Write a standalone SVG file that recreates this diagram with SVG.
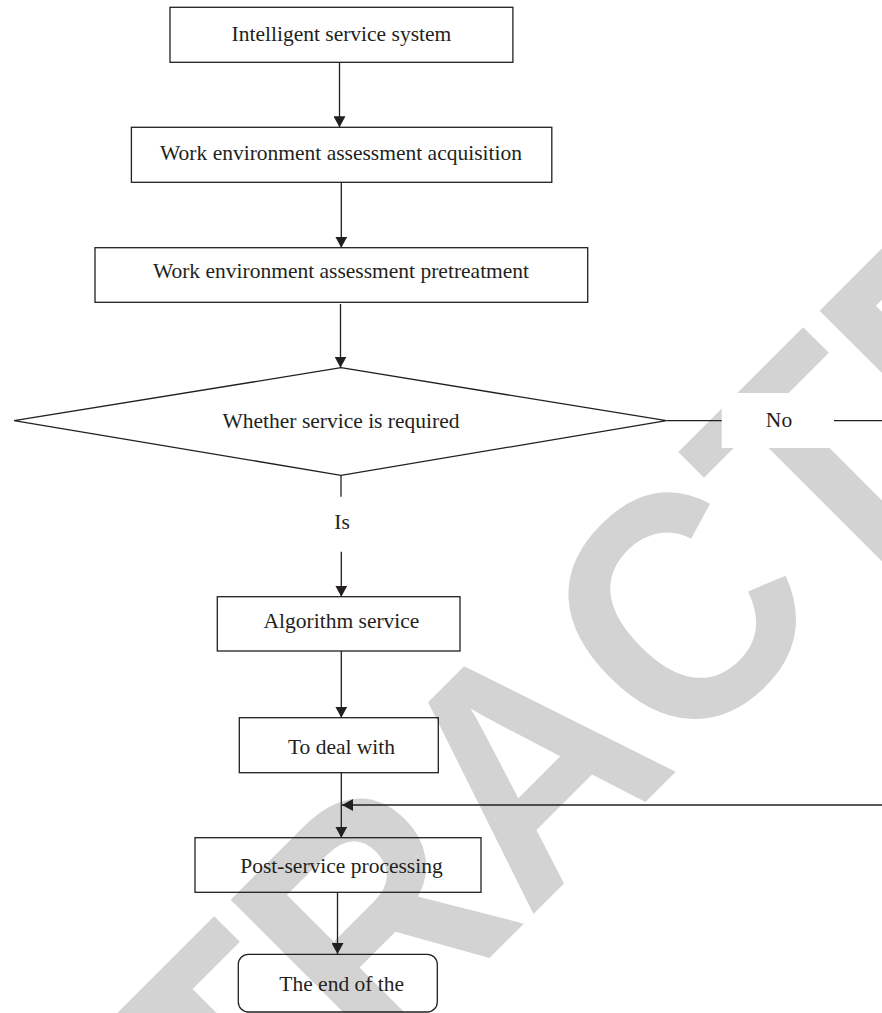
<svg xmlns="http://www.w3.org/2000/svg" width="882" height="1013" viewBox="0 0 882 1013">
<style>
.box{fill:none;stroke:#231f20;stroke-width:1.3}
.ln{fill:none;stroke:#231f20;stroke-width:1.3}
.arr{marker-end:url(#ah)}
.lbl{font-family:"Liberation Serif","Times New Roman",serif;font-size:21.5px;fill:#231f20;text-anchor:middle}
.wm{font-family:"Liberation Sans",Arial,sans-serif;font-weight:bold;font-size:326px;fill:#d3d3d3}
</style>
<defs>
<marker id="ah" markerUnits="userSpaceOnUse" markerWidth="12" markerHeight="12" refX="11" refY="6" orient="auto">
<path d="M0,0 L11,6 L0,12 z" fill="#231f20"/>
</marker>
</defs>
<rect x="0" y="0" width="882" height="1013" fill="#ffffff"/>
<g id="watermark">
<text class="wm" transform="translate(-49.1,1496.6) rotate(-45) scale(0.92,1)" x="0" y="0">RETRACTED</text>
</g>
<g id="connectors">
<line class="ln arr" x1="339.5" y1="62.3" x2="339.5" y2="127.3"/>
<line class="ln arr" x1="341.3" y1="182.3" x2="341.3" y2="247.7"/>
<line class="ln arr" x1="340.5" y1="304" x2="340.5" y2="367.7"/>
<line class="ln" x1="341" y1="475.3" x2="341" y2="496.7"/>
<text class="lbl" x="342" y="529">Is</text>
<line class="ln arr" x1="341.3" y1="551.7" x2="341.3" y2="596.7"/>
<line class="ln arr" x1="341.3" y1="651" x2="341.3" y2="717.7"/>
<line class="ln arr" x1="341.3" y1="772.7" x2="341.3" y2="837.7"/>
<line class="ln arr" x1="882" y1="805" x2="342" y2="805"/>
<line class="ln arr" x1="337.5" y1="892.3" x2="337.5" y2="954"/>
<line class="ln" x1="666.5" y1="420.7" x2="882" y2="420.7"/>
<rect x="721.7" y="393" width="112.3" height="55" fill="#ffffff"/>
<text class="lbl" x="779" y="426.5">No</text>
</g>
<g id="n1">
<rect class="box" x="170" y="7.3" width="342.9" height="55"/>
<text class="lbl" x="341.4" y="40.7">Intelligent service system</text>
</g>
<g id="n2">
<rect class="box" x="131.4" y="127.3" width="420.4" height="55"/>
<text class="lbl" x="341" y="159.5">Work environment assessment acquisition</text>
</g>
<g id="n3">
<rect class="box" x="95" y="247.7" width="492.7" height="54.6"/>
<text class="lbl" x="341" y="277.8">Work environment assessment pretreatment</text>
</g>
<g id="n4">
<polygon class="box" points="341,367.7 666.5,420.7 341,475.3 14.1,420.7"/>
<text class="lbl" x="341" y="428.3">Whether service is required</text>
</g>
<g id="n5">
<rect class="box" x="217.3" y="596.7" width="242.7" height="54.3"/>
<text class="lbl" x="341.5" y="628.3">Algorithm service</text>
</g>
<g id="n6">
<rect class="box" x="239.3" y="717.7" width="199" height="55"/>
<text class="lbl" x="341.5" y="754">To deal with</text>
</g>
<g id="n7">
<rect class="box" x="195" y="837.7" width="286" height="54.6"/>
<text class="lbl" x="341.5" y="872.7">Post-service processing</text>
</g>
<g id="n8">
<rect class="box" x="238.3" y="954.3" width="199" height="57.7" rx="10" ry="10"/>
<text class="lbl" x="341.7" y="990.7">The end of the</text>
</g>
</svg>
